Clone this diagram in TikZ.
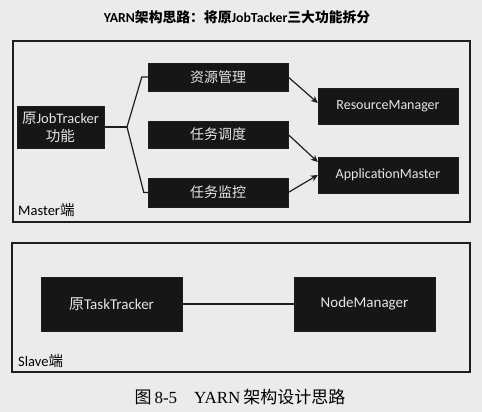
\documentclass[tikz,border=0pt]{standalone}
\usepackage{fontspec}
\setmainfont{Carlito}
\newfontfamily\cjk{Noto Sans CJK SC}
\newfontfamily\serifl{Liberation Serif}
\usetikzlibrary{arrows.meta}
\definecolor{paper}{HTML}{EBEBEB}
\definecolor{boxfill}{HTML}{161616}
\definecolor{boxtext}{HTML}{E6E6E6}
\definecolor{ink}{HTML}{1E1E1E}
\tikzset{
  blackbox/.style={draw=ink, fill=boxfill, text=boxtext, inner sep=0pt, align=center,
    font=\fontsize{14}{17}\selectfont},
  bigbox/.style={blackbox, font=\fontsize{15}{18}\selectfont},
  frame/.style={draw=ink, line width=1.3pt, inner sep=0pt},
  conn/.style={draw=ink, line width=1.2pt},
  arr/.style={conn, -{Stealth[length=7pt,width=6.5pt]}},
  endlabel/.style={anchor=west, inner sep=0pt, text=black, font=\fontsize{14.5}{16}\selectfont},
}
\begin{document}
\begin{tikzpicture}[x=1pt,y=-1pt]
\fill[paper] (0,0) rectangle (482,412);
\useasboundingbox (0,0) rectangle (482,412);

\node[font=\bfseries\fontsize{13.8}{16}\selectfont, text=black] (title) at (237,17)
  {YARN{\cjk\bfseries 架构思路：将原}JobTacker{\cjk\bfseries 三大功能拆分}};

\node[frame, minimum width=457, minimum height=181] (master) at (241.5,131.5) {};
\node[frame, minimum width=458, minimum height=129] (slave) at (241,307.5) {};

\node[blackbox, font=\fontsize{14.5}{18}\selectfont, minimum width=87, minimum height=42] (jt) at (60.5,127)
  {{\cjk 原}JobTracker\\{\cjk 功能}};
\node[blackbox, minimum width=140, minimum height=28] (r1) at (218,77) {{\cjk 资源管理}};
\node[blackbox, minimum width=140, minimum height=27] (r2) at (218,134.5) {{\cjk 任务调度}};
\node[blackbox, minimum width=140, minimum height=29] (r3) at (218,192.5) {{\cjk 任务监控}};
\node[blackbox, minimum width=140, minimum height=36] (rm) at (388,106) {ResourceManager};
\node[blackbox, minimum width=140, minimum height=36] (am) at (388,175) {ApplicationMaster};

\node[endlabel] (ml) at (18,210) {Master{\cjk 端}};

\node[bigbox, minimum width=141, minimum height=54] (tt) at (111.5,304) {{\cjk 原}TaskTracker};
\node[bigbox, minimum width=141, minimum height=54] (nm) at (364.5,304) {NodeManager};

\node[endlabel] (sl) at (18,361) {Slave{\cjk 端}};

\node[font=\fontsize{17}{19}\selectfont, text=black] (cap) at (240,397)
  {{\cjk 图}\,{\serifl 8-5\quad YARN}\,{\cjk 架构设计思路}};

% connectors
\coordinate (br) at (127,127);
\draw[conn] (jt.east) -- (br);
\draw[conn] (br) -- ([xshift=-6pt]r1.west) -- (r1.west);
\draw[conn] (br) -- ([xshift=-4pt]r3.west) -- (r3.west);
\draw[arr] (r1.east) -- ([yshift=3pt]rm.west);
\draw[arr] (r2.east) -- ([yshift=13pt]am.west);
\draw[arr] (r3.east) -- (am.west);
\draw[conn] (tt.east) -- (nm.west);
\end{tikzpicture}
\end{document}
